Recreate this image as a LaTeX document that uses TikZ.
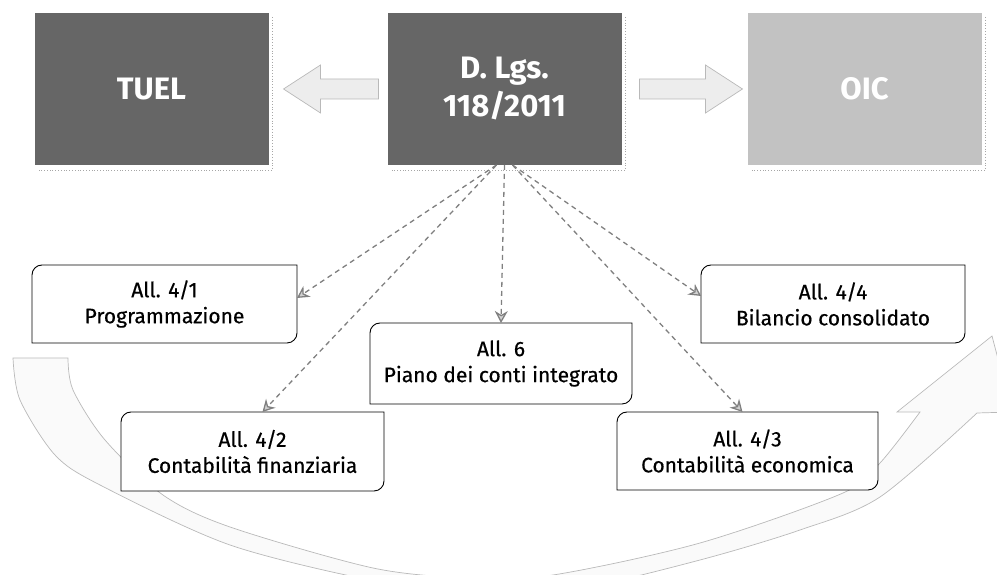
\documentclass[tikz,border=0pt]{standalone}
\usepackage{fontspec}
\setmainfont{Fira Sans}
\newfontfamily\subfont[FakeBold=0.5]{Fira Sans}
\usetikzlibrary{calc,arrows.meta,backgrounds}
\newcommand\rdbox[1]{\filldraw[boxline] (#1.south west) -- ([yshift=-10]#1.north west) arc[start angle=180,end angle=90,radius=10] -- (#1.north east) -- ([yshift=10]#1.south east) arc[start angle=0,end angle=-90,radius=10] -- cycle;}
\begin{document}
\begin{tikzpicture}[x=1pt,y=1pt,
  topbox/.style={minimum width=234pt, minimum height=152pt, inner sep=0pt, outer sep=0pt, text=white, font=\fontsize{31}{38}\selectfont\bfseries, align=center},
  darkbox/.style={topbox, fill=black!60},
  lightbox/.style={topbox, fill=black!24},
  subbox/.style={inner sep=0pt, outer sep=0pt, font=\subfont\fontsize{21}{26}\selectfont, align=center, text=black},
  boxline/.style={draw=black, line width=0.9pt, fill=white},
  shadowline/.style={draw=gray!70, dotted, line width=0.8pt},
  conn/.style={draw=black!50, line width=1.3pt, dash pattern=on 5pt off 4pt, -{Stealth[length=12pt,width=13pt,fill=gray!35]}},
  blockarr/.style={draw=gray!55, fill=gray!14, line width=0.7pt},
  bigarrow/.style={draw=gray!55, fill=gray!4, line width=0.7pt}
]
\useasboundingbox (0,0) rectangle (997,575);

% top boxes
\node[darkbox]  (tuel) at (151.5,486) {TUEL};
\node[darkbox]  (dlgs) at (504.5,486) {D. Lgs.\\118/2011};
\node[lightbox] (oic)  at (864.5,486) {OIC};

% sub boxes (text only; outlines on background layer)
\node[subbox, minimum width=265pt, minimum height=78pt] (n41) at (164.5,271) {All. 4/1\\Programmazione};
\node[subbox, minimum width=264pt, minimum height=78pt] (n44) at (833,271) {All. 4/4\\Bilancio consolidato};
\node[subbox, minimum width=262pt, minimum height=81pt] (n6)  at (501,211.5) {All. 6\\Piano dei conti integrato};
\node[subbox, minimum width=263pt, minimum height=79pt] (n42) at (252.5,123.5) {All. 4/2\\Contabilità finanziaria};
\node[subbox, minimum width=261pt, minimum height=78pt] (n43) at (747.5,124) {All. 4/3\\Contabilità economica};

\begin{scope}[on background layer]
  \clip (0,0) rectangle (997,575);
  % large curved arrow
  \filldraw[bigarrow]
    plot[smooth] coordinates {(13,217) (20,175) (55,120) (100,90) (230,30) (380,-7) (480,-17) (580,-13) (700,15) (800,45) (880,78) (977,162)}
    -- (1012,163) -- (992,239) -- (897,163) -- (920,163)
    -- plot[smooth] coordinates {(920,163) (880,112) (843,82) (700,32) (553,0) (470,-3) (373,7) (230,48) (163,80) (105,135) (73,185) (68,217)}
    -- cycle;
  \rdbox{n41}
  \rdbox{n44}
  \rdbox{n6}
  \rdbox{n42}
  \rdbox{n43}
\end{scope}

% dotted shadows of top boxes
\foreach \b in {tuel,dlgs,oic}{
  \draw[shadowline] ([xshift=4,yshift=-4]\b.north east) -- ([xshift=4,yshift=-5]\b.south east) -- ([xshift=4,yshift=-5]\b.south west);
}

% block arrows between top boxes
\filldraw[blockarr] ($(dlgs.west)+(-9,-10)$) -- ($(tuel.east)+(52,-10)$) -- ($(tuel.east)+(52,-24)$) -- ($(tuel.east)+(15,0)$) -- ($(tuel.east)+(52,24)$) -- ($(tuel.east)+(52,10)$) -- ($(dlgs.west)+(-9,10)$) -- cycle;
\filldraw[blockarr] ($(dlgs.east)+(18,10)$) -- ($(oic.west)+(-42,10)$) -- ($(oic.west)+(-42,24)$) -- ($(oic.west)+(-5,0)$) -- ($(oic.west)+(-42,-24)$) -- ($(oic.west)+(-42,-10)$) -- ($(dlgs.east)+(18,-10)$) -- cycle;

% dashed connectors
\draw[conn] ([xshift=-8]dlgs.south) -- ([yshift=6]n41.east);
\draw[conn] ([xshift=-8]dlgs.south) -- ([xshift=10]n42.north);
\draw[conn] (dlgs.south) -- (n6.north);
\draw[conn] ([xshift=8]dlgs.south) -- ([xshift=-5]n43.north);
\draw[conn] ([xshift=8]dlgs.south) -- ([yshift=8]n44.west);
\end{tikzpicture}
\end{document}
